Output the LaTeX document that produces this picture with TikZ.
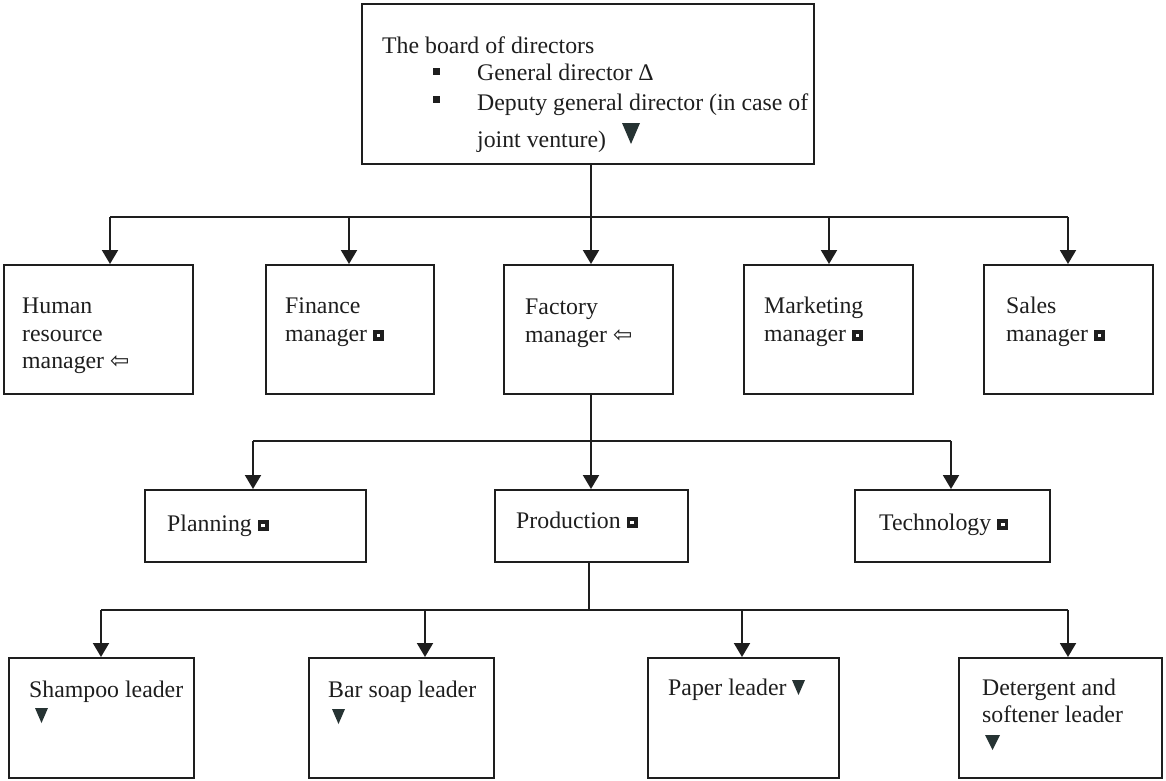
\documentclass[tikz,border=0pt]{standalone}
\usepackage{fontspec}
\setmainfont{Liberation Serif}
\newfontfamily\symfont{DejaVu Sans}
\usetikzlibrary{arrows.meta}
\definecolor{ink}{HTML}{1E1E1E}
\definecolor{tri}{HTML}{263333}
% small black square with a white centre, set on the baseline
\newcommand\sqmark{\rlap{\textcolor{ink}{\rule{11pt}{11pt}}}\hspace{3.6pt}\raisebox{3.6pt}{\textcolor{white}{\rule{3.8pt}{3.8pt}}}\hspace{3.6pt}}
% outlined left arrow
\newcommand\lamark{{\fontsize{23}{23}\symfont ⇦}}
\begin{document}
\begin{tikzpicture}[x=1pt,y=-1pt,
  box/.style={draw=ink,line width=2.4pt,inner sep=0pt,anchor=north west},
  lbl/.style={anchor=base west,inner sep=0pt,text=ink,font=\fontsize{23.8}{28}\selectfont},
  wire/.style={draw=ink,line width=2pt},
  arr/.style={wire,-{Triangle[length=14pt,width=16pt]}},
  dn/.style={fill=tri}]
\useasboundingbox (0,0) rectangle (1166,780);

% ---- board of directors
\node[box,minimum width=452pt,minimum height=160pt] (top) at (361,3) {};
\node[lbl] (t1) at (382,53) {The board of directors};
\node[lbl] (t2) at (477,80) {General director Δ};
\node[lbl] (t3) at (477,110) {Deputy general director (in case of};
\node[lbl] (t4) at (477,147) {joint venture)};
\fill[ink] (433,68) rectangle (440,75);
\fill[ink] (433,96) rectangle (440,103);
\fill[dn] (622,123) -- (640,123) -- (631,144) -- cycle;

% ---- managers
\node[box,minimum width=189pt,minimum height=129pt] (hr) at (3,264) {};
\node[box,minimum width=168pt,minimum height=129pt] (fin) at (265,264) {};
\node[box,minimum width=169pt,minimum height=129pt] (fac) at (503,264) {};
\node[box,minimum width=169pt,minimum height=129pt] (mkt) at (743,264) {};
\node[box,minimum width=169pt,minimum height=129pt] (sal) at (983,264) {};

\node[lbl] (hr1) at (22,313) {Human};
\node[lbl] (hr2) at (22,341) {resource};
\node[lbl] (hr3) at (22,368) {manager \lamark};
\node[lbl] (fi1) at (285,313) {Finance};
\node[lbl] (fi2) at (285,341) {manager \sqmark};
\node[lbl] (fa1) at (525,314) {Factory};
\node[lbl] (fa2) at (525,342) {manager \lamark};
\node[lbl] (mk1) at (764,313) {Marketing};
\node[lbl] (mk2) at (764,341) {manager \sqmark};
\node[lbl] (sa1) at (1006,313) {Sales};
\node[lbl] (sa2) at (1006,341) {manager \sqmark};

% ---- factory departments
\node[box,minimum width=221pt,minimum height=72pt] (pla) at (144,489) {};
\node[box,minimum width=193pt,minimum height=72pt] (pro) at (494,489) {};
\node[box,minimum width=195pt,minimum height=72pt] (tec) at (854,489) {};
\node[lbl] (pl1) at (167,531) {Planning \sqmark};
\node[lbl] (pr1) at (516,528) {Production \sqmark};
\node[lbl] (te1) at (879,530) {Technology \sqmark};

% ---- production leaders
\node[box,minimum width=185pt,minimum height=120pt] (sha) at (8,657) {};
\node[box,minimum width=185pt,minimum height=120pt] (bar) at (308,657) {};
\node[box,minimum width=191pt,minimum height=120pt] (pap) at (647,657) {};
\node[box,minimum width=203pt,minimum height=120pt] (det) at (958,657) {};
\node[lbl] (sh1) at (29,697) {Shampoo leader};
\node[lbl] (ba1) at (328,697) {Bar soap leader};
\node[lbl] (pa1) at (668,695) {Paper leader};
\node[lbl] (de1) at (982,695) {Detergent and};
\node[lbl] (de2) at (982,722) {softener leader};
\fill[dn] (35,708) -- (48,708) -- (41.5,723) -- cycle;
\fill[dn] (332,709) -- (345,709) -- (338.5,724) -- cycle;
\fill[dn] (792,680) -- (805,680) -- (798.5,695) -- cycle;
\fill[dn] (985,735) -- (1000,735) -- (992.5,750) -- cycle;

% ---- connectors: board to managers
\coordinate (a0) at (591,217);
\coordinate (a1) at (110,217);
\coordinate (a2) at (349,217);
\coordinate (a4) at (829,217);
\coordinate (a5) at (1068,217);
\draw[wire] (top.south -| a0) -- (a0);
\draw[wire] (a1) -- (a5);
\draw[arr] (a1) -- (a1 |- hr.north);
\draw[arr] (a2) -- (a2 |- fin.north);
\draw[arr] (a0) -- (a0 |- fac.north);
\draw[arr] (a4) -- (a4 |- mkt.north);
\draw[arr] (a5) -- (a5 |- sal.north);

% ---- factory manager to departments
\coordinate (b0) at (591,441);
\coordinate (b1) at (253,441);
\coordinate (b3) at (951,441);
\draw[wire] (fac.south -| b0) -- (b0);
\draw[wire] (b1) -- (b3);
\draw[arr] (b1) -- (b1 |- pla.north);
\draw[arr] (b0) -- (b0 |- pro.north);
\draw[arr] (b3) -- (b3 |- tec.north);

% ---- production to leaders
\coordinate (c0) at (589,610);
\coordinate (c1) at (101,610);
\coordinate (c2) at (425,610);
\coordinate (c3) at (742,610);
\coordinate (c4) at (1068,610);
\draw[wire] (pro.south -| c0) -- (c0);
\draw[wire] (c1) -- (c4);
\draw[arr] (c1) -- (c1 |- sha.north);
\draw[arr] (c2) -- (c2 |- bar.north);
\draw[arr] (c3) -- (c3 |- pap.north);
\draw[arr] (c4) -- (c4 |- det.north);
\end{tikzpicture}
\end{document}
